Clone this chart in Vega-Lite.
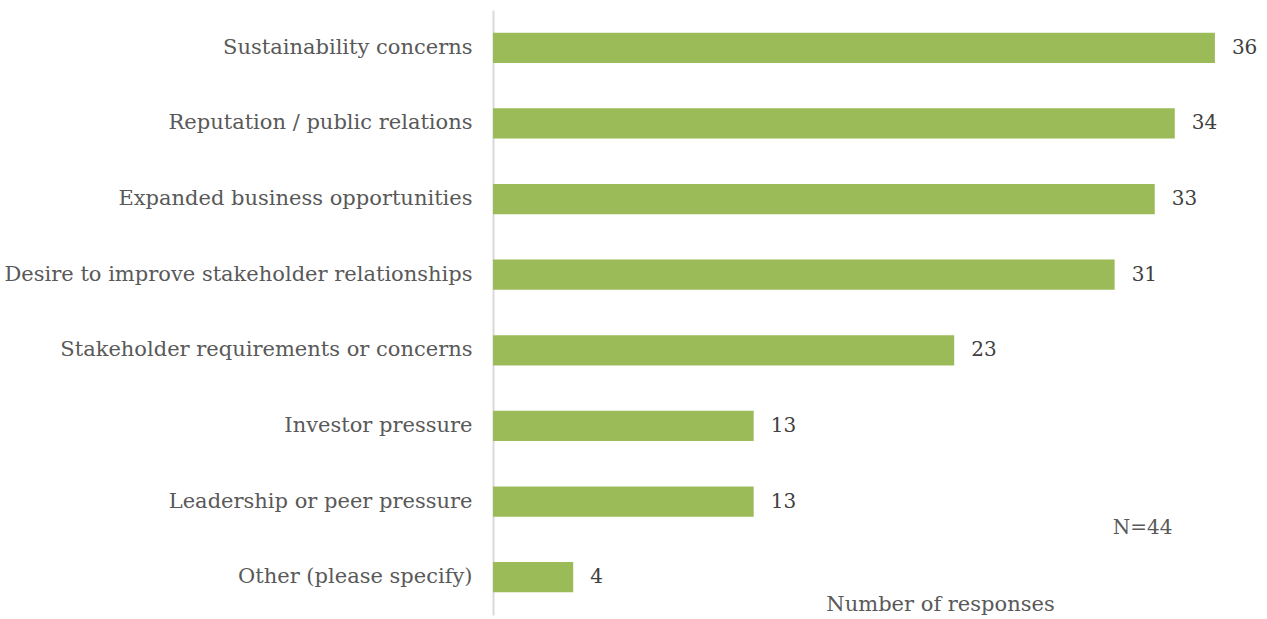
{
  "$schema": "https://vega.github.io/schema/vega-lite/v6.json",
  "width": 762,
  "height": 605,
  "autosize": {"type": "none"},
  "padding": {"left": 493, "top": 10, "right": 12, "bottom": 4},
  "background": "white",
  "config": {"view": {"stroke": null}, "font": "DejaVu Serif"},
  "data": {"values": [
    {"reason": "Sustainability concerns", "count": 36},
    {"reason": "Reputation / public relations", "count": 34},
    {"reason": "Expanded business opportunities", "count": 33},
    {"reason": "Desire to improve stakeholder relationships", "count": 31},
    {"reason": "Stakeholder requirements or concerns", "count": 23},
    {"reason": "Investor pressure", "count": 13},
    {"reason": "Leadership or peer pressure", "count": 13},
    {"reason": "Other (please specify)", "count": 4}
  ]},
  "encoding": {
    "y": {"field": "reason", "type": "nominal", "sort": null,
      "scale": {"paddingInner": 0.6, "paddingOuter": 0.3},
      "axis": {"title": null, "ticks": false, "domainColor": "#d9d9d9", "domainWidth": 2,
        "labelFont": "DejaVu Serif", "labelFontSize": 21, "labelColor": "#595959",
        "labelPadding": 21, "labelLimit": 0}},
    "x": {"field": "count", "type": "quantitative",
      "scale": {"domain": [0, 38], "nice": false},
      "axis": {"title": "Number of responses", "labels": false, "ticks": false, "grid": false, "domain": false,
        "titleFont": "DejaVu Serif", "titleFontSize": 21, "titleFontWeight": "normal", "titleColor": "#595959",
        "titleBaseline": "middle", "titleX": 447, "titleY": -11}}
  },
  "layer": [
    {"mark": {"type": "bar", "color": "#9bbb59"}},
    {"mark": {"type": "text", "align": "left", "dx": 17, "fontSize": 20, "color": "#404040", "font": "DejaVu Serif"},
      "encoding": {"text": {"field": "count", "type": "quantitative"}}},
    {"data": {"values": [{"label": "N=44", "xv": 32.4, "yv": "Leadership or peer pressure"}]},
      "mark": {"type": "text", "align": "center", "dy": 26, "fontSize": 20, "color": "#595959", "font": "DejaVu Serif"},
      "encoding": {"x": {"field": "xv", "type": "quantitative"}, "y": {"field": "yv", "type": "nominal"}, "text": {"field": "label"}}}
  ]
}
